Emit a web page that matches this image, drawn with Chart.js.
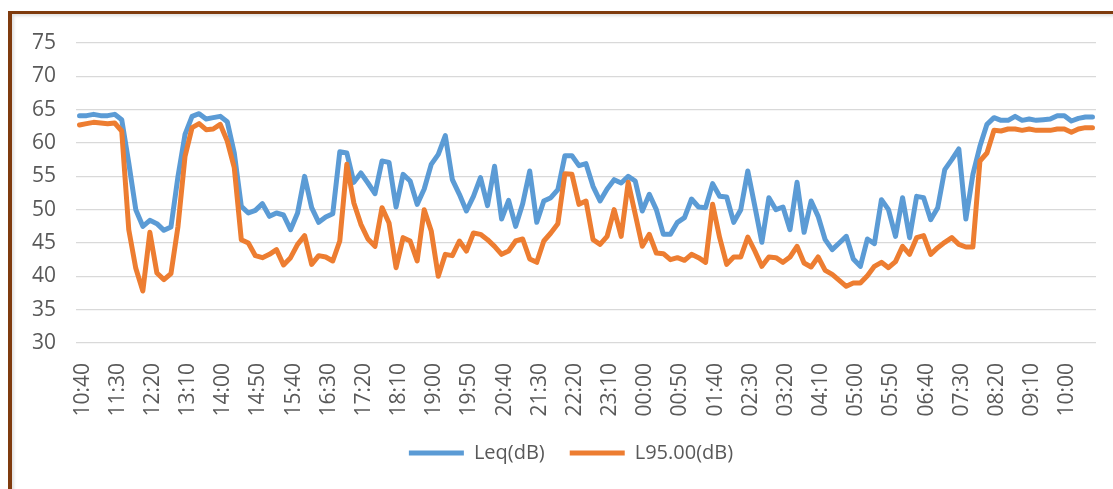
<!DOCTYPE html>
<html>
<head>
<meta charset="utf-8">
<title>Leq / L95</title>
<script src="https://cdn.jsdelivr.net/npm/chart.js@4/dist/chart.umd.min.js"></script>
<style>
    html, body { margin: 0; padding: 0; background: #fff; }
    .wrap { position: relative; width: 1113px; height: 489px; overflow: hidden; }
    /* brown frame around the chart */
    .frame {
        position: absolute;
        left: 8px;
        top: 11px;
        width: 1300px;
        height: 700px;
        border-left: 4px solid #7f3b0e;
        border-top: 3px solid #7f3b0e;
        box-shadow: inset 2px 2px 3px rgba(0, 0, 0, 0.12);
    }
    #lineChart { position: absolute; left: 0; top: 0; }
</style>
</head>
<body>
<div class="wrap">
    <div class="frame"></div>
    <canvas id="lineChart" width="1113" height="489"></canvas>
</div>
<script>
// 10-minute readings, starting 10:40
const startTime = '10:40';
const stepMinutes = 10;
const labelEvery = 5;

const leq = [
    64.1, 64.1, 64.3, 64.1, 64.1, 64.3, 63.5, 57.0, 50.0, 47.5,
    48.4, 47.9, 46.9, 47.4, 55.0, 61.3, 64.0, 64.4, 63.6, 63.8,
    64.0, 63.2, 58.5, 50.5, 49.5, 49.9, 50.9, 49.0, 49.5, 49.2,
    47.0, 49.5, 55.0, 50.3, 48.1, 48.9, 49.4, 58.7, 58.5, 54.1,
    55.5, 54.0, 52.4, 57.3, 57.1, 50.4, 55.3, 54.3, 50.8, 53.1,
    56.8, 58.3, 61.1, 54.5, 52.3, 49.8, 52.0, 54.8, 50.6, 56.5,
    48.6, 51.4, 47.5, 50.9, 55.8, 48.1, 51.3, 51.8, 53.0, 58.1,
    58.1, 56.6, 56.9, 53.5, 51.3, 53.1, 54.5, 54.0, 55.0, 54.3,
    49.8, 52.3, 50.0, 46.3, 46.3, 48.1, 48.8, 51.6, 50.4, 50.3,
    53.9, 52.0, 51.9, 48.1, 50.0, 55.8, 50.5, 45.1, 51.8, 50.0,
    50.4, 47.0, 54.1, 46.6, 51.3, 49.0, 45.5, 44.0, 45.0, 46.0,
    42.6, 41.5, 45.6, 44.9, 51.5, 50.0, 46.0, 51.8, 45.8, 52.0,
    51.8, 48.5, 50.3, 56.0, 57.5, 59.1, 48.6, 55.3, 59.5, 62.8,
    63.8, 63.4, 63.4, 64.0, 63.4, 63.6, 63.4, 63.5, 63.6, 64.1,
    64.1, 63.3, 63.7, 63.9, 63.9
];

const l95 = [
    62.7, 62.9, 63.1, 63.0, 62.9, 63.0, 61.8, 47.0, 41.2, 37.8,
    46.6, 40.5, 39.5, 40.4, 47.5, 58.0, 62.3, 62.9, 62.0, 62.1,
    62.8, 60.3, 56.3, 45.5, 45.0, 43.1, 42.8, 43.3, 44.0, 41.7,
    42.8, 44.8, 46.1, 41.8, 43.1, 42.9, 42.3, 45.3, 56.8, 51.0,
    47.8, 45.6, 44.5, 50.3, 48.0, 41.3, 45.8, 45.3, 42.3, 50.0,
    46.8, 40.0, 43.3, 43.1, 45.3, 43.8, 46.5, 46.3, 45.5, 44.5,
    43.3, 43.8, 45.3, 45.6, 42.6, 42.1, 45.3, 46.5, 47.9, 55.4,
    55.3, 50.8, 51.3, 45.5, 44.8, 46.0, 50.0, 46.0, 54.1, 49.3,
    44.5, 46.3, 43.5, 43.4, 42.5, 42.8, 42.4, 43.3, 42.8, 42.1,
    50.8, 45.8, 41.8, 42.9, 42.9, 45.9, 43.8, 41.5, 42.9, 42.8,
    42.1, 42.9, 44.5, 42.0, 41.4, 42.9, 40.9, 40.3, 39.4, 38.5,
    39.0, 39.0, 40.1, 41.5, 42.1, 41.3, 42.2, 44.5, 43.3, 45.8,
    46.1, 43.3, 44.3, 45.1, 45.8, 44.8, 44.4, 44.4, 57.3, 58.5,
    61.9, 61.8, 62.1, 62.1, 61.9, 62.1, 61.9, 61.9, 61.9, 62.1,
    62.1, 61.6, 62.1, 62.3, 62.3
];

// hh:mm label for every reading
const pad = (n) => String(n).padStart(2, '0');
const [h0, m0] = startTime.split(':').map(Number);
const times = leq.map((_, i) => {
    const t = (h0 * 60 + m0 + i * stepMinutes) % 1440;
    return pad(Math.floor(t / 60)) + ':' + pad(t % 60);
});

const tickFont = { family: '"Open Sans", sans-serif', size: 21 };
const legendFont = { family: '"Open Sans", sans-serif', size: 20 };
const textColor = '#595959';

// legend sits centred under the plot area rather than the whole canvas
const legendShift = {
    id: 'legendShift',
    afterLayout(chart) {
        const dx = 23;
        chart.legend.left += dx;
        chart.legend.right += dx;
    },
};

const ctx = document.getElementById('lineChart').getContext('2d');

const lineChart = new Chart(ctx, {
    type: 'line',
    data: {
        labels: times,
        datasets: [
            {
                label: 'Leq(dB)',
                data: leq,
                borderColor: '#5B9BD5',
                backgroundColor: '#5B9BD5',
                borderWidth: 5,
                order: 1,
            },
            {
                label: 'L95.00(dB)',
                data: l95,
                borderColor: '#ED7D31',
                backgroundColor: '#ED7D31',
                borderWidth: 5,
                order: 0, // orange drawn over blue
            },
        ],
    },
    options: {
        responsive: false,
        animation: false,
        devicePixelRatio: 1,
        elements: {
            point: { radius: 0, hoverRadius: 0 },
            line: { tension: 0, borderJoinStyle: 'round', borderCapStyle: 'round' },
        },
        layout: {
            padding: { left: 0, right: 17, top: 43, bottom: 16 },
        },
        plugins: {
            tooltip: { enabled: false },
            legend: {
                display: true,
                position: 'bottom',
                labels: {
                    usePointStyle: true,
                    pointStyle: 'line',
                    pointStyleWidth: 55,
                    padding: 25,
                    color: textColor,
                    font: legendFont,
                    sort: (a, b) => a.datasetIndex - b.datasetIndex,
                },
            },
        },
        scales: {
            x: {
                offset: true,
                grid: { display: false, drawTicks: false },
                border: { display: false },
                ticks: {
                    autoSkip: false,
                    minRotation: 90,
                    maxRotation: 90,
                    padding: 20,
                    labelOffset: 3,
                    color: textColor,
                    font: tickFont,
                    callback: (value, index) => (index % labelEvery === 0 ? times[index] : ''),
                },
                afterFit: (scale) => {
                    scale.height = 75;
                    // plot runs right to the layout padding
                    scale.paddingLeft = 0;
                    scale.paddingRight = 0;
                },
            },
            y: {
                min: 30,
                max: 75,
                grid: { color: '#d9d9d9', lineWidth: 1.3, drawTicks: false },
                border: { display: false },
                ticks: {
                    stepSize: 5,
                    padding: 20,
                    color: textColor,
                    font: tickFont,
                },
                afterFit: (scale) => { scale.width = 76; },
            },
        },
    },
    plugins: [legendShift],
});
</script>
</body>
</html>
